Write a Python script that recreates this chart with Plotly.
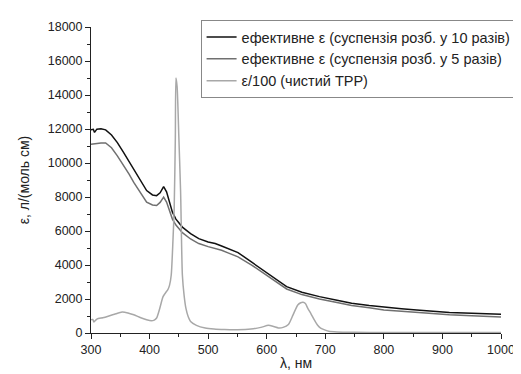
import plotly.graph_objects as go

lam = [300, 304, 306, 310, 317, 325, 335, 345, 355, 365, 373, 385, 395, 405, 412, 418, 424, 429, 434, 439,
       445, 456, 470, 484, 500, 512, 523, 535, 551, 575, 595, 615, 634, 660, 690, 720, 745, 775, 800, 830,
       856, 885, 912, 950, 1000]
eps_10x = [11950, 11980, 11800, 11990, 12020, 11950, 11650, 11200, 10650, 10100, 9640, 8950, 8380, 8120, 8080,
           8250, 8610, 8300, 7700, 7110, 6700, 6230, 5850, 5550, 5350, 5260, 5120, 4950, 4730, 4150, 3660, 3150,
           2730, 2400, 2140, 1930, 1750, 1620, 1520, 1430, 1360, 1280, 1210, 1160, 1100]
eps_5x = [11100, 11120, 11100, 11130, 11180, 11180, 10900, 10420, 9900, 9350, 8860, 8200, 7700, 7530, 7500,
          7680, 7990, 7700, 7200, 6700, 6350, 5900, 5530, 5260, 5080, 4980, 4870, 4700, 4480, 3980, 3510, 3010,
          2590, 2260, 2000, 1790, 1620, 1480, 1360, 1280, 1210, 1140, 1070, 1010, 935]

lam_tpp = [300, 303, 305, 310, 320, 328, 340, 353, 363, 373, 385, 395, 403, 408, 412, 417, 423, 428, 431, 434,
           437, 440, 442, 444, 445, 447, 450, 453, 456, 459, 462, 466, 470, 480, 495, 510, 528, 550, 573, 590,
           603, 612, 620, 628, 637, 645, 653, 658, 662, 666, 670, 676, 681, 687, 692, 700, 706, 720, 750, 800,
           850, 900, 950, 1000]
eps_tpp = [780, 800, 650, 820, 900, 975, 1100, 1230, 1180, 1070, 900, 780, 720, 760, 880, 1400, 2140, 2400, 2530,
           2800, 3410, 5500, 7300, 11500, 15000, 14500, 11500, 8280, 3410, 2200, 1460, 950, 680, 450, 290, 230,
           200, 190, 230, 330, 450, 380, 300, 330, 500, 1070, 1650, 1780, 1810, 1730, 1460, 1100, 780, 450, 290,
           170, 100, 60, 40, 30, 30, 30, 30, 30]

x_ticks = [300, 400, 500, 600, 700, 800, 900, 1000]
y_ticks = [0, 2000, 4000, 6000, 8000, 10000, 12000, 14000, 16000, 18000]

names = ["ефективне ε (суспензія розб. у 10 разів)",
         "ефективне ε (суспензія розб. у 5 разів)",
         "ε/100 (чистий TPP)"]

FONT = "Liberation Sans, Arial, sans-serif"

fig = go.Figure()
fig.add_trace(go.Scatter(x=lam, y=eps_10x, mode="lines", name=names[0],
                         line=dict(color="#111111", width=1.5)))
fig.add_trace(go.Scatter(x=lam, y=eps_5x, mode="lines", name=names[1],
                         line=dict(color="#707070", width=1.5)))
fig.add_trace(go.Scatter(x=lam_tpp, y=eps_tpp, mode="lines", name=names[2],
                         line=dict(color="#a8a8a8", width=1.5, shape="spline", smoothing=0.6)))

axis_common = dict(showgrid=False, zeroline=False, showline=True, linecolor="#222", linewidth=1,
                   ticks="outside", ticklen=5, tickcolor="#222", tickwidth=1, automargin=False,
                   tickfont=dict(family=FONT, size=12.5, color="#222"))
fig.update_xaxes(range=[300, 1000], tickvals=x_ticks, ticktext=[str(v) for v in x_ticks],
                 minor=dict(ticks="outside", ticklen=3, tickcolor="#222", dtick=50, tick0=300),
                 title=dict(text="λ, нм", font=dict(family=FONT, size=14, color="#222"), standoff=2),
                 **axis_common)
fig.update_yaxes(range=[0, 18000], tickvals=y_ticks, ticktext=[str(v) for v in y_ticks],
                 minor=dict(ticks="outside", ticklen=3, tickcolor="#222", dtick=1000, tick0=0),
                 title=dict(text="ε, л/(моль см)", font=dict(family=FONT, size=14, color="#222"), standoff=14),
                 **axis_common)

fig.update_layout(
    width=521, height=374,
    margin=dict(l=83, r=18, t=17, b=49),
    plot_bgcolor="white", paper_bgcolor="white",
    font=dict(family=FONT, size=13, color="#222"),
    legend=dict(x=1.038, y=1.0227, xanchor="right", yanchor="top",
                bgcolor="white", bordercolor="#888", borderwidth=1,
                font=dict(family=FONT, size=14.5, color="#222"),
                tracegroupgap=0, itemwidth=30),
    showlegend=True,
)

fig.write_html("out.html")
